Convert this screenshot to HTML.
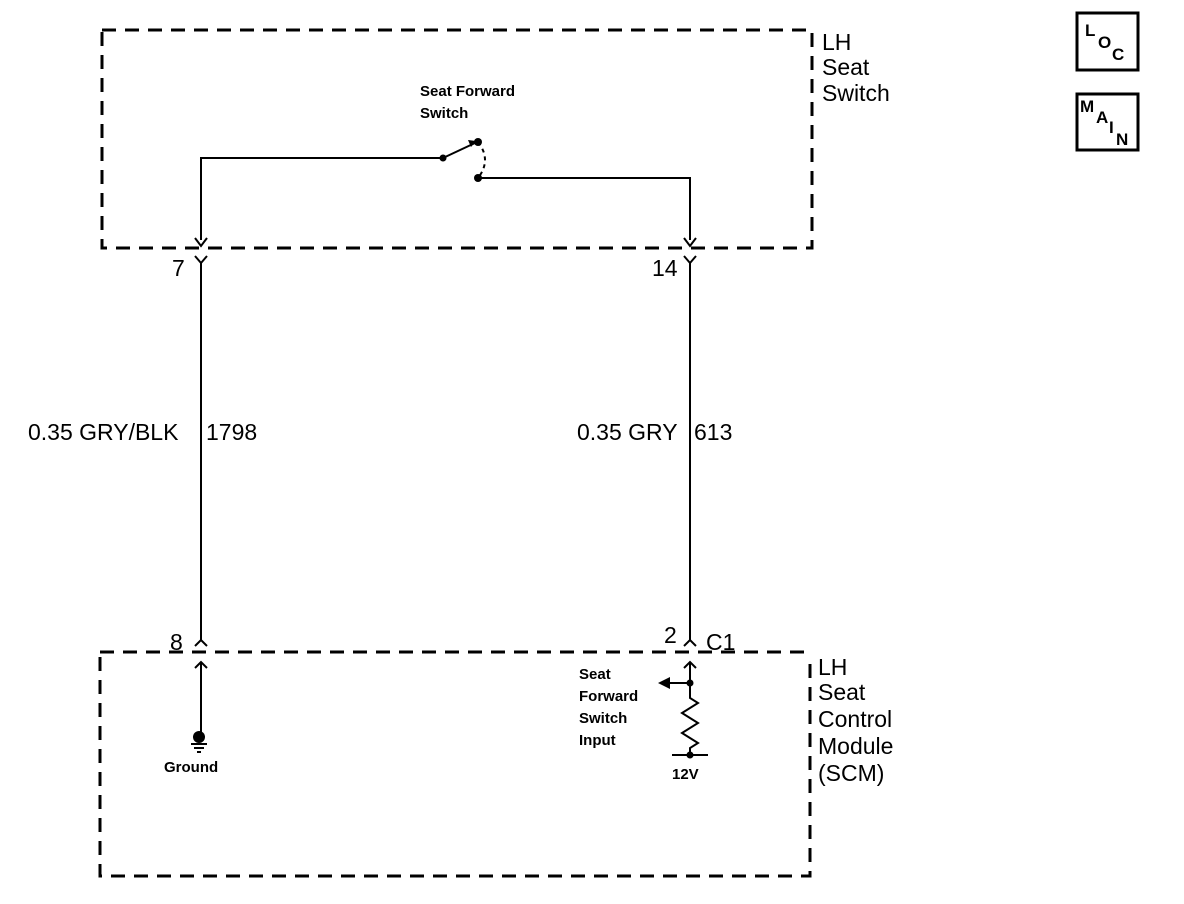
<!DOCTYPE html>
<html><head><style>body{margin:0;background:#fff}svg{display:block}text{font-family:"Liberation Sans",sans-serif;fill:#000}</style></head><body>
<svg width="1184" height="904" viewBox="0 0 1184 904" xmlns="http://www.w3.org/2000/svg">
<g fill="none" stroke="#000" stroke-width="3" stroke-dasharray="14,9">
<rect x="102" y="30" width="710" height="218"/>
<path d="M100 657V876H810V657"/>
<path d="M100 652H812"/>
</g>
<g fill="none" stroke="#000" stroke-width="2">
<path d="M201 240V158H443"/>
<path d="M443 158L475 143"/>
<path d="M478 178H690V240"/>
<path d="M478 142Q492 160 478 178" stroke-dasharray="4,4"/>
<path d="M195 238L201 246L207 238M684 238L690 246L696 238"/>
<path d="M195 256L201 263L207 256M201 263V640M195 646L201 640L207 646"/>
<path d="M684 256L690 263L696 256M690 263V640M684 646L690 640L696 646"/>
<path d="M201 662V735M195 668L201 662L207 668"/>
<path d="M690 662V698L698 703L682 713L698 723L682 733L698 743L690 748V755M684 668L690 662L696 668"/>
<path d="M690 683H664M672 755H708"/>
<path d="M191 744H207M194 748H204M197 752H201"/>
</g>
<g fill="#000">
<circle cx="443" cy="158" r="3.5"/><circle cx="478" cy="142" r="4"/><circle cx="478" cy="178" r="4"/>
<path d="M468 140L476 141L471 147Z"/>
<circle cx="199" cy="737" r="6"/>
<circle cx="690" cy="683" r="3.5"/><circle cx="690" cy="755" r="3.5"/>
<path d="M658 683L670 677V689Z"/>
</g>
<g font-size="23">
<text x="822" y="50">LH</text><text x="822" y="75">Seat</text><text x="822" y="101">Switch</text>
<text x="818" y="675">LH</text><text x="818" y="700">Seat</text><text x="818" y="727">Control</text><text x="818" y="754">Module</text><text x="818" y="781">(SCM)</text>
<text x="28" y="440">0.35 GRY/BLK</text><text x="206" y="440">1798</text>
<text x="577" y="440">0.35 GRY</text><text x="694" y="440">613</text>
<text x="172" y="276">7</text><text x="652" y="276">14</text>
<text x="170" y="650">8</text><text x="664" y="643">2</text><text x="706" y="650">C1</text>
</g>
<g font-size="15" font-weight="bold">
<text x="420" y="96">Seat Forward</text><text x="420" y="118">Switch</text>
<text x="579" y="679">Seat</text><text x="579" y="701">Forward</text><text x="579" y="723">Switch</text><text x="579" y="745">Input</text>
<text x="164" y="772">Ground</text><text x="672" y="779">12V</text>
</g>
<g fill="none" stroke="#000" stroke-width="3"><rect x="1077" y="13" width="61" height="57"/><rect x="1077" y="94" width="61" height="56"/></g>
<g font-size="17" font-weight="bold"><text x="1085" y="36">L</text><text x="1098" y="48">O</text><text x="1112" y="60">C</text>
<text x="1080" y="112">M</text><text x="1096" y="123">A</text><text x="1109" y="133">I</text><text x="1116" y="145">N</text></g>
</svg>
</body></html>
